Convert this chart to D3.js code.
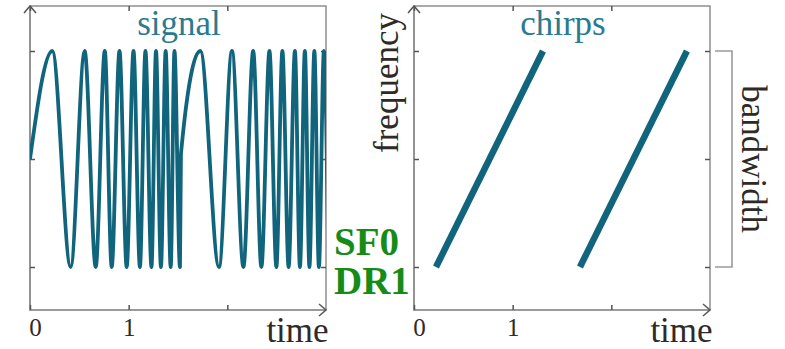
<!DOCTYPE html>
<html>
<head>
<meta charset="utf-8">
<script src="https://d3js.org/d3.v7.min.js"></script>
<style>
  body { margin: 0; background: #fff; }
  svg text { font-family: "Liberation Serif", "Times New Roman", serif; }
</style>
</head>
<body>
<svg id="chart" width="785" height="349"></svg>
<script>
// extrema of the chirped signal (time units, value)
const signalTime = [0, 0.226, 0.412, 0.554, 0.666, 0.758, 0.828, 0.907, 0.980, 1.049, 1.114,
  1.170, 1.231, 1.277, 1.327, 1.375, 1.426, 1.464, 1.520,
  1.530, 1.727, 1.915, 2.047, 2.163, 2.262, 2.345, 2.427, 2.497, 2.558, 2.621,
  2.685, 2.736, 2.786, 2.832, 2.882, 2.928, 2.979, 3.024];
const signalValue = [0, 1, -1, 1, -1, 1, -1, 1, -1, 1, -1,
  1, -1, 1, -1, 1, -1, 1, -1,
  0.05, 1, -1, 1, -1, 1, -1, 1, -1, 1, -1,
  1, -1, 1, -1, 1, -1, 1, -1];

// chirps in the time/frequency panel
const chirpStart = [0.223, 1.682];
const chirpEnd = [1.307, 2.766];
const freqLow = -1, freqHigh = 1;

const xTicks = [0, 1, 2];
const xTickLabels = ['0', '1', ''];
const yTicks = [-1, 0, 1];

const teal = '#10657c';
const frameColor = '#8e8e8e';
const tickColor = '#555';
const textColor = '#2f2a26';

const svg = d3.select('#chart');

const y = d3.scaleLinear().domain([-1, 1]).range([267, 51]);
const plotTop = 6, plotBottom = 310;

function panel(x, name) {
  const [x0, x1] = x.range();
  const g = svg.append('g');

  // frame
  g.append('path')
    .attr('d', `M${x0},${plotTop}H${x1}V${plotBottom}`)
    .attr('fill', 'none').attr('stroke', frameColor).attr('stroke-width', 1.5);
  g.append('path')
    .attr('d', `M${x0},${plotTop}V${plotBottom}H${x1}`)
    .attr('fill', 'none').attr('stroke', '#7a7a7a').attr('stroke-width', 1.6);

  // arrows
  g.append('path')
    .attr('d', `M${x0 - 6},${plotTop + 7}L${x0},${plotTop}L${x0 + 6},${plotTop + 7}`)
    .attr('fill', 'none').attr('stroke', '#555').attr('stroke-width', 1.5);
  g.append('path')
    .attr('d', `M${x1 - 7},${plotBottom - 6}L${x1},${plotBottom}L${x1 - 7},${plotBottom + 6}`)
    .attr('fill', 'none').attr('stroke', '#555').attr('stroke-width', 1.5);

  // ticks, pointing inward
  const axes = [
    [d3.axisBottom(x).tickValues(xTicks).tickFormat((d, i) => xTickLabels[i]), `translate(0,${plotBottom})`],
    [d3.axisTop(x).tickValues(xTicks).tickFormat(''), `translate(0,${plotTop})`],
    [d3.axisLeft(y).tickValues(yTicks).tickFormat(''), `translate(${x0},0)`],
    [d3.axisRight(y).tickValues(yTicks).tickFormat(''), `translate(${x1},0)`]
  ];
  axes.forEach(([ax, tr]) => {
    const a = g.append('g').attr('transform', tr)
      .call(ax.tickSizeInner(-5).tickSizeOuter(0).tickPadding(8));
    a.select('.domain').remove();
    a.selectAll('line').attr('stroke', tickColor).attr('stroke-width', 1.5);
    a.selectAll('text')
      .attr('font-size', 25).attr('fill', textColor)
      .attr('dx', d => d === 0 ? 5 : 0);
  });

  g.append('text')
    .attr('x', x(3) - 28.5).attr('y', 342)
    .attr('text-anchor', 'middle').attr('font-size', 35).attr('fill', textColor)
    .text('time');

  g.append('text')
    .attr('x', x(1.51)).attr('y', 35)
    .attr('text-anchor', 'middle').attr('font-size', 35).attr('fill', '#2a7a90')
    .text(name);
  return g;
}

// left: signal
const xL = d3.scaleLinear().domain([0, 3]).range([30, 326]);
const gL = panel(xL, 'signal');

svg.append('clipPath').attr('id', 'clipL')
  .append('rect').attr('x', 30).attr('y', plotTop).attr('width', 296).attr('height', plotBottom - plotTop);

const signalLine = d3.line()
  .x((d, i) => xL(signalTime[i]))
  .y(d => y(d))
  .curve(d3.curveMonotoneX);

gL.append('path')
  .attr('clip-path', 'url(#clipL)')
  .attr('d', signalLine(signalValue))
  .attr('fill', 'none').attr('stroke', teal).attr('stroke-width', 3.8)
  .attr('stroke-linejoin', 'round');

// right: chirps
const xR = d3.scaleLinear().domain([0, 3]).range([414, 710]);
const gR = panel(xR, 'chirps');

gR.selectAll('.chirp')
  .data(chirpStart)
  .enter().append('line')
  .attr('class', 'chirp')
  .attr('x1', d => xR(d)).attr('y1', y(freqLow))
  .attr('x2', (d, i) => xR(chirpEnd[i])).attr('y2', y(freqHigh))
  .attr('stroke', teal).attr('stroke-width', 6.5);

svg.append('text')
  .attr('transform', 'translate(398,83) rotate(-90)')
  .attr('text-anchor', 'middle').attr('font-size', 35).attr('fill', textColor)
  .text('frequency');

// bandwidth bracket
svg.append('path')
  .attr('d', `M715,${y(freqHigh)}H732V${y(freqLow)}H715`)
  .attr('fill', 'none').attr('stroke', '#9a9a9a').attr('stroke-width', 1.6);

svg.append('text')
  .attr('transform', `translate(742,${y(0)}) rotate(90)`)
  .attr('text-anchor', 'middle').attr('font-size', 35).attr('fill', textColor)
  .text('bandwidth');

// spreading factor / data rate
svg.append('text')
  .attr('x', 334).attr('y', 255)
  .attr('font-size', 39).attr('font-weight', 'bold').attr('fill', '#178b17')
  .text('SF0');
svg.append('text')
  .attr('x', 334).attr('y', 294)
  .attr('font-size', 39).attr('font-weight', 'bold').attr('fill', '#178b17')
  .text('DR1');
</script>
</body>
</html>
